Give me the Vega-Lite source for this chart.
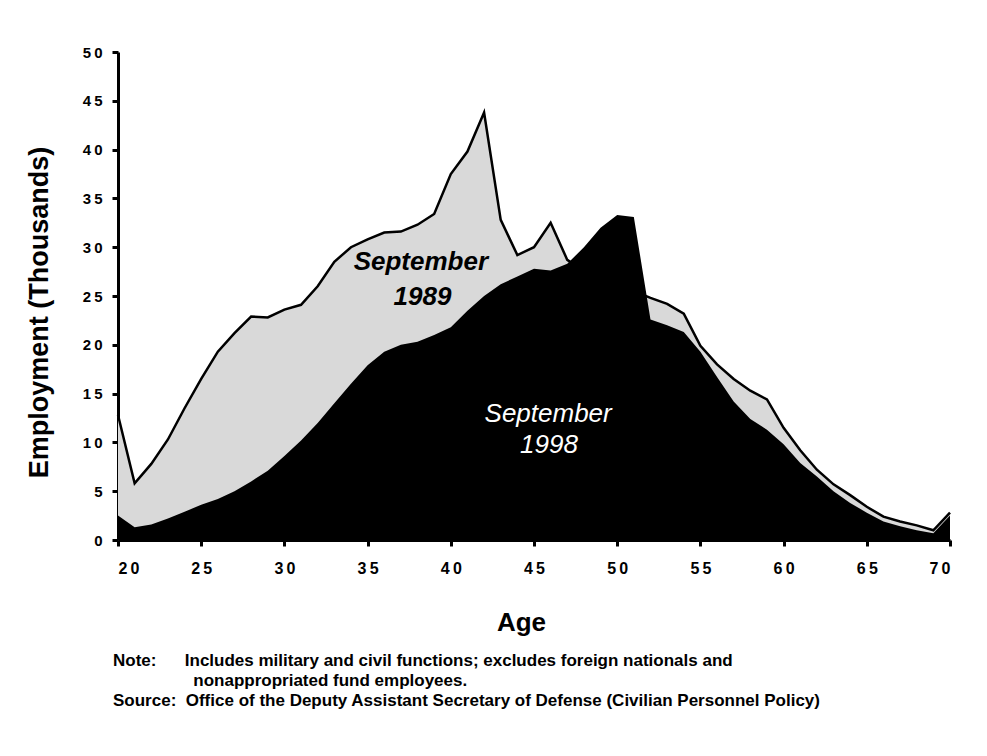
{
  "$schema": "https://vega.github.io/schema/vega-lite/v6.json",
  "autosize": "none",
  "width": 832,
  "height": 488,
  "padding": {"left": 118, "top": 52, "right": 37, "bottom": 216},
  "background": "white",
  "config": {
    "font": "Liberation Sans",
    "view": {"stroke": null},
    "axis": {"grid": false, "domainColor": "black", "domainWidth": 3, "tickColor": "black", "tickWidth": 3, "tickSize": 6, "labelColor": "black", "labelFontWeight": "bold", "titleColor": "black", "titleFontWeight": "bold", "labelFont": "Liberation Sans", "titleFont": "Liberation Sans", "zindex": 1}
  },
  "title": {
    "text": ["Note:\u00a0\u00a0\u00a0\u00a0\u00a0\u00a0Includes military and civil functions; excludes foreign nationals and", "\u200b\u00a0\u00a0\u00a0\u00a0\u00a0\u00a0\u00a0\u00a0\u00a0\u00a0\u00a0\u00a0\u00a0\u00a0\u00a0\u00a0\u00a0nonappropriated fund employees.", "Source:\u00a0\u00a0Office of the Deputy Assistant Secretary of Defense (Civilian Personnel Policy)"],
    "orient": "bottom",
    "anchor": "start",
    "frame": "group",
    "dx": -5,
    "offset": 18,
    "font": "Liberation Sans",
    "fontSize": 17,
    "fontWeight": "bold",
    "color": "black",
    "lineHeight": 20
  },
  "datasets": {
    "emp": [
      {"age": 20, "y1989": 12.8, "y1998": 2.5},
      {"age": 21, "y1989": 5.8, "y1998": 1.3},
      {"age": 22, "y1989": 7.8, "y1998": 1.6},
      {"age": 23, "y1989": 10.3, "y1998": 2.2},
      {"age": 24, "y1989": 13.5, "y1998": 2.9},
      {"age": 25, "y1989": 16.5, "y1998": 3.6},
      {"age": 26, "y1989": 19.3, "y1998": 4.2},
      {"age": 27, "y1989": 21.2, "y1998": 5.0},
      {"age": 28, "y1989": 22.9, "y1998": 6.0},
      {"age": 29, "y1989": 22.8, "y1998": 7.1},
      {"age": 30, "y1989": 23.6, "y1998": 8.6},
      {"age": 31, "y1989": 24.1, "y1998": 10.2},
      {"age": 32, "y1989": 26.0, "y1998": 12.0},
      {"age": 33, "y1989": 28.5, "y1998": 14.0},
      {"age": 34, "y1989": 30.0, "y1998": 16.0},
      {"age": 35, "y1989": 30.8, "y1998": 17.9},
      {"age": 36, "y1989": 31.5, "y1998": 19.3},
      {"age": 37, "y1989": 31.6, "y1998": 20.0},
      {"age": 38, "y1989": 32.3, "y1998": 20.3},
      {"age": 39, "y1989": 33.4, "y1998": 21.0},
      {"age": 40, "y1989": 37.5, "y1998": 21.8},
      {"age": 41, "y1989": 39.8, "y1998": 23.5},
      {"age": 42, "y1989": 43.8, "y1998": 25.0},
      {"age": 43, "y1989": 32.8, "y1998": 26.2},
      {"age": 44, "y1989": 29.2, "y1998": 27.0},
      {"age": 45, "y1989": 30.0, "y1998": 27.8},
      {"age": 46, "y1989": 32.5, "y1998": 27.6},
      {"age": 47, "y1989": 28.7, "y1998": 28.3},
      {"age": 48, "y1989": 27.5, "y1998": 30.0},
      {"age": 49, "y1989": 27.0, "y1998": 32.0},
      {"age": 50, "y1989": 26.5, "y1998": 33.3},
      {"age": 51, "y1989": 25.5, "y1998": 33.1},
      {"age": 52, "y1989": 24.8, "y1998": 22.6},
      {"age": 53, "y1989": 24.2, "y1998": 22.0},
      {"age": 54, "y1989": 23.2, "y1998": 21.3},
      {"age": 55, "y1989": 19.9, "y1998": 19.3},
      {"age": 56, "y1989": 18.0, "y1998": 16.7},
      {"age": 57, "y1989": 16.5, "y1998": 14.2},
      {"age": 58, "y1989": 15.3, "y1998": 12.4},
      {"age": 59, "y1989": 14.4, "y1998": 11.3},
      {"age": 60, "y1989": 11.5, "y1998": 9.8},
      {"age": 61, "y1989": 9.2, "y1998": 7.9},
      {"age": 62, "y1989": 7.2, "y1998": 6.5},
      {"age": 63, "y1989": 5.7, "y1998": 5.0},
      {"age": 64, "y1989": 4.6, "y1998": 3.8},
      {"age": 65, "y1989": 3.4, "y1998": 2.8},
      {"age": 66, "y1989": 2.4, "y1998": 1.9},
      {"age": 67, "y1989": 1.9, "y1998": 1.4},
      {"age": 68, "y1989": 1.5, "y1998": 1.0},
      {"age": 69, "y1989": 1.0, "y1998": 0.7},
      {"age": 70, "y1989": 2.8, "y1998": 2.5}
    ],
    "labels1989": [
      {"age": 38.2, "emp": 27.66, "text": "September"},
      {"age": 38.3, "emp": 24.08, "text": "1989"}
    ],
    "labels1998": [
      {"age": 45.85, "emp": 12.09, "text": "September"},
      {"age": 45.9, "emp": 8.91, "text": "1998"}
    ]
  },
  "layer": [
    {
      "data": {"name": "emp"},
      "mark": {"type": "area", "color": "#d9d9d9"},
      "encoding": {
        "x": {"field": "age", "type": "quantitative", "scale": {"domain": [20, 70], "nice": false},
          "axis": {"values": [20, 25, 30, 35, 40, 45, 50, 55, 60, 65, 70], "title": "Age", "labelFontSize": 16, "labelPadding": 14, "labelExpr": "join(split(datum.label, ''), '\u2009')", "titleFontSize": 26, "titleBaseline": "alphabetic", "titleX": 403, "titleY": 90}},
        "y": {"field": "y1989", "type": "quantitative", "scale": {"domain": [0, 50], "nice": false},
          "axis": {"values": [0, 5, 10, 15, 20, 25, 30, 35, 40, 45, 50], "title": "Employment (Thousands)", "labelFontSize": 15, "labelPadding": 10, "labelExpr": "join(split(datum.label, ''), '\u2009')", "titleFontSize": 27, "titleAngle": 270, "titleBaseline": "alphabetic", "titleX": -71, "titleY": 260}}
      }
    },
    {
      "data": {"name": "emp"},
      "mark": {"type": "line", "color": "black", "strokeWidth": 2.5},
      "encoding": {
        "x": {"field": "age", "type": "quantitative"},
        "y": {"field": "y1989", "type": "quantitative"}
      }
    },
    {
      "data": {"name": "emp"},
      "mark": {"type": "area", "color": "black"},
      "encoding": {
        "x": {"field": "age", "type": "quantitative"},
        "y": {"field": "y1998", "type": "quantitative"}
      }
    },
    {
      "data": {"name": "labels1989"},
      "mark": {"type": "text", "fontSize": 26, "fontStyle": "italic", "fontWeight": "bold", "color": "black", "align": "center", "baseline": "alphabetic", "font": "Liberation Sans"},
      "encoding": {
        "x": {"field": "age", "type": "quantitative"},
        "y": {"field": "emp", "type": "quantitative"},
        "text": {"field": "text"}
      }
    },
    {
      "data": {"name": "labels1998"},
      "mark": {"type": "text", "fontSize": 26, "fontStyle": "italic", "fontWeight": "normal", "color": "white", "align": "center", "baseline": "alphabetic", "font": "Liberation Sans"},
      "encoding": {
        "x": {"field": "age", "type": "quantitative"},
        "y": {"field": "emp", "type": "quantitative"},
        "text": {"field": "text"}
      }
    }
  ]
}
